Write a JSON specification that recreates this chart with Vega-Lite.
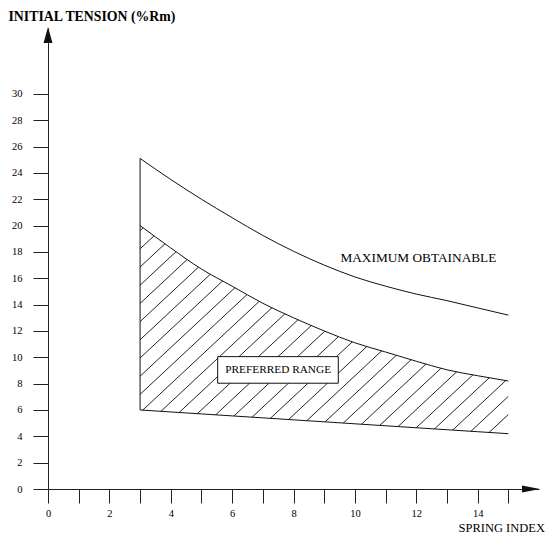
{
  "$schema": "https://vega.github.io/schema/vega-lite/v6.json",
  "autosize": {"type": "none"},
  "padding": {"left": 48, "top": 28, "right": 10, "bottom": 46},
  "width": 491,
  "height": 461,
  "background": "white",
  "config": {
    "view": {"stroke": null},
    "axis": {
      "grid": false,
      "domainColor": "#222", "domainWidth": 1,
      "tickColor": "#222", "tickWidth": 1,
      "labelFont": "Liberation Serif", "labelFontSize": 10.5, "labelColor": "black",
      "labelFlush": false, "labelOverlap": false,
      "titleFont": "Liberation Serif", "titleColor": "black"
    }
  },
  "datasets": {
    "curves": [
      {"spring_index": 3, "maximum": 25.1, "preferred_upper": 20.0, "preferred_lower": 6.0},
      {"spring_index": 4, "maximum": 23.5, "preferred_upper": 18.3, "preferred_lower": 5.85},
      {"spring_index": 5, "maximum": 22.0, "preferred_upper": 16.7, "preferred_lower": 5.7},
      {"spring_index": 6, "maximum": 20.6, "preferred_upper": 15.4, "preferred_lower": 5.55},
      {"spring_index": 7, "maximum": 19.25, "preferred_upper": 14.1, "preferred_lower": 5.4},
      {"spring_index": 8, "maximum": 18.05, "preferred_upper": 13.0, "preferred_lower": 5.25},
      {"spring_index": 9, "maximum": 17.0, "preferred_upper": 12.0, "preferred_lower": 5.1},
      {"spring_index": 10, "maximum": 16.1, "preferred_upper": 11.1, "preferred_lower": 4.95},
      {"spring_index": 11, "maximum": 15.4, "preferred_upper": 10.4, "preferred_lower": 4.8},
      {"spring_index": 12, "maximum": 14.8, "preferred_upper": 9.7, "preferred_lower": 4.65},
      {"spring_index": 13, "maximum": 14.3, "preferred_upper": 9.05, "preferred_lower": 4.5},
      {"spring_index": 14, "maximum": 13.75, "preferred_upper": 8.6, "preferred_lower": 4.35},
      {"spring_index": 15, "maximum": 13.2, "preferred_upper": 8.2, "preferred_lower": 4.2}
    ],
    "labels": [
      {"label": "MAXIMUM OBTAINABLE", "spring_index": 12.07, "tension": 17.52, "kind": "plain"},
      {"label": "PREFERRED RANGE", "spring_index": 7.5, "tension": 9.04, "kind": "boxed"}
    ],
    "boxes": [
      {"spring_index": 5.53, "spring_index_end": 9.46, "tension": 8.03, "tension_end": 10.05}
    ]
  },
  "layer": [
    {
      "data": {"name": "curves"},
      "mark": {
        "type": "area",
        "interpolate": "monotone",
        "opacity": 1,
        "fill": {
          "gradient": "linear",
          "x1": 0, "y1": 0, "x2": 1.1748, "y2": 0.7113,
          "stops": [
            {"offset": 0, "color": "white"},
            {"offset": 0.0074, "color": "white"}, {"offset": 0.0092, "color": "#222"}, {"offset": 0.0110, "color": "white"},
            {"offset": 0.0404, "color": "white"}, {"offset": 0.0422, "color": "#222"}, {"offset": 0.0440, "color": "white"},
            {"offset": 0.0733, "color": "white"}, {"offset": 0.0751, "color": "#222"}, {"offset": 0.0769, "color": "white"},
            {"offset": 0.1063, "color": "white"}, {"offset": 0.1081, "color": "#222"}, {"offset": 0.1099, "color": "white"},
            {"offset": 0.1393, "color": "white"}, {"offset": 0.1411, "color": "#222"}, {"offset": 0.1429, "color": "white"},
            {"offset": 0.1723, "color": "white"}, {"offset": 0.1741, "color": "#222"}, {"offset": 0.1759, "color": "white"},
            {"offset": 0.2052, "color": "white"}, {"offset": 0.2070, "color": "#222"}, {"offset": 0.2088, "color": "white"},
            {"offset": 0.2382, "color": "white"}, {"offset": 0.2400, "color": "#222"}, {"offset": 0.2418, "color": "white"},
            {"offset": 0.2712, "color": "white"}, {"offset": 0.2730, "color": "#222"}, {"offset": 0.2748, "color": "white"},
            {"offset": 0.3041, "color": "white"}, {"offset": 0.3059, "color": "#222"}, {"offset": 0.3077, "color": "white"},
            {"offset": 0.3371, "color": "white"}, {"offset": 0.3389, "color": "#222"}, {"offset": 0.3407, "color": "white"},
            {"offset": 0.3701, "color": "white"}, {"offset": 0.3719, "color": "#222"}, {"offset": 0.3737, "color": "white"},
            {"offset": 0.4030, "color": "white"}, {"offset": 0.4048, "color": "#222"}, {"offset": 0.4066, "color": "white"},
            {"offset": 0.4360, "color": "white"}, {"offset": 0.4378, "color": "#222"}, {"offset": 0.4396, "color": "white"},
            {"offset": 0.4690, "color": "white"}, {"offset": 0.4708, "color": "#222"}, {"offset": 0.4726, "color": "white"},
            {"offset": 0.5020, "color": "white"}, {"offset": 0.5038, "color": "#222"}, {"offset": 0.5056, "color": "white"},
            {"offset": 0.5349, "color": "white"}, {"offset": 0.5367, "color": "#222"}, {"offset": 0.5385, "color": "white"},
            {"offset": 0.5679, "color": "white"}, {"offset": 0.5697, "color": "#222"}, {"offset": 0.5715, "color": "white"},
            {"offset": 0.6009, "color": "white"}, {"offset": 0.6027, "color": "#222"}, {"offset": 0.6045, "color": "white"},
            {"offset": 0.6338, "color": "white"}, {"offset": 0.6356, "color": "#222"}, {"offset": 0.6374, "color": "white"},
            {"offset": 0.6668, "color": "white"}, {"offset": 0.6686, "color": "#222"}, {"offset": 0.6704, "color": "white"},
            {"offset": 0.6998, "color": "white"}, {"offset": 0.7016, "color": "#222"}, {"offset": 0.7034, "color": "white"},
            {"offset": 0.7327, "color": "white"}, {"offset": 0.7345, "color": "#222"}, {"offset": 0.7363, "color": "white"},
            {"offset": 0.7657, "color": "white"}, {"offset": 0.7675, "color": "#222"}, {"offset": 0.7693, "color": "white"},
            {"offset": 0.7987, "color": "white"}, {"offset": 0.8005, "color": "#222"}, {"offset": 0.8023, "color": "white"},
            {"offset": 0.8317, "color": "white"}, {"offset": 0.8335, "color": "#222"}, {"offset": 0.8353, "color": "white"},
            {"offset": 0.8646, "color": "white"}, {"offset": 0.8664, "color": "#222"}, {"offset": 0.8682, "color": "white"},
            {"offset": 0.8976, "color": "white"}, {"offset": 0.8994, "color": "#222"}, {"offset": 0.9012, "color": "white"},
            {"offset": 0.9306, "color": "white"}, {"offset": 0.9324, "color": "#222"}, {"offset": 0.9342, "color": "white"},
            {"offset": 0.9635, "color": "white"}, {"offset": 0.9653, "color": "#222"}, {"offset": 0.9671, "color": "white"},
            {"offset": 1, "color": "white"}
          ]
        }
      },
      "encoding": {
        "x": {
          "field": "spring_index", "type": "quantitative",
          "scale": {"domain": [0, 16], "nice": false, "zero": false},
          "axis": {"title": "SPRING INDEX", "values": [0, 1, 2, 3, 4, 5, 6, 7, 8, 9, 10, 11, 12, 13, 14, 15], "labelExpr": "datum.value % 2 == 0 ? datum.label : ''", "tickSize": 14, "labelPadding": 5, "titleFontSize": 12.5, "titleFontWeight": "normal", "titleX": 410, "titleY": 38, "titleAlign": "left", "titleBaseline": "middle"}
        },
        "y": {
          "field": "preferred_lower", "type": "quantitative",
          "scale": {"domain": [0, 35], "nice": false, "zero": false},
          "axis": {"title": "INITIAL TENSION (%Rm)", "values": [0, 2, 4, 6, 8, 10, 12, 14, 16, 18, 20, 22, 24, 26, 28, 30], "tickSize": 15, "labelPadding": 11, "titleFontSize": 13.8, "titleFontWeight": "bold", "titleAngle": 0, "titleX": -40, "titleY": -12, "titleAlign": "left", "titleBaseline": "middle"}
        },
        "y2": {"field": "preferred_upper"}
      }
    },
    {
      "data": {"name": "curves"},
      "mark": {"type": "line", "interpolate": "monotone", "color": "#111", "strokeWidth": 1},
      "encoding": {
        "x": {"field": "spring_index", "type": "quantitative", "axis": {"title": "SPRING INDEX", "values": [0, 1, 2, 3, 4, 5, 6, 7, 8, 9, 10, 11, 12, 13, 14, 15], "labelExpr": "datum.value % 2 == 0 ? datum.label : ''", "tickSize": 14, "labelPadding": 5, "titleFontSize": 12.5, "titleFontWeight": "normal", "titleX": 410, "titleY": 38, "titleAlign": "left", "titleBaseline": "middle"}},
        "y": {"field": "maximum", "type": "quantitative", "axis": {"title": "INITIAL TENSION (%Rm)", "values": [0, 2, 4, 6, 8, 10, 12, 14, 16, 18, 20, 22, 24, 26, 28, 30], "tickSize": 15, "labelPadding": 11, "titleFontSize": 13.8, "titleFontWeight": "bold", "titleAngle": 0, "titleX": -40, "titleY": -12, "titleAlign": "left", "titleBaseline": "middle"}}
      }
    },
    {
      "data": {"name": "curves"},
      "mark": {"type": "line", "interpolate": "monotone", "color": "#111", "strokeWidth": 1},
      "encoding": {
        "x": {"field": "spring_index", "type": "quantitative", "axis": {"title": "SPRING INDEX", "values": [0, 1, 2, 3, 4, 5, 6, 7, 8, 9, 10, 11, 12, 13, 14, 15], "labelExpr": "datum.value % 2 == 0 ? datum.label : ''", "tickSize": 14, "labelPadding": 5, "titleFontSize": 12.5, "titleFontWeight": "normal", "titleX": 410, "titleY": 38, "titleAlign": "left", "titleBaseline": "middle"}},
        "y": {"field": "preferred_upper", "type": "quantitative", "axis": {"title": "INITIAL TENSION (%Rm)", "values": [0, 2, 4, 6, 8, 10, 12, 14, 16, 18, 20, 22, 24, 26, 28, 30], "tickSize": 15, "labelPadding": 11, "titleFontSize": 13.8, "titleFontWeight": "bold", "titleAngle": 0, "titleX": -40, "titleY": -12, "titleAlign": "left", "titleBaseline": "middle"}}
      }
    },
    {
      "data": {"name": "curves"},
      "mark": {"type": "line", "color": "#111", "strokeWidth": 1},
      "encoding": {
        "x": {"field": "spring_index", "type": "quantitative", "axis": {"title": "SPRING INDEX", "values": [0, 1, 2, 3, 4, 5, 6, 7, 8, 9, 10, 11, 12, 13, 14, 15], "labelExpr": "datum.value % 2 == 0 ? datum.label : ''", "tickSize": 14, "labelPadding": 5, "titleFontSize": 12.5, "titleFontWeight": "normal", "titleX": 410, "titleY": 38, "titleAlign": "left", "titleBaseline": "middle"}},
        "y": {"field": "preferred_lower", "type": "quantitative", "axis": {"title": "INITIAL TENSION (%Rm)", "values": [0, 2, 4, 6, 8, 10, 12, 14, 16, 18, 20, 22, 24, 26, 28, 30], "tickSize": 15, "labelPadding": 11, "titleFontSize": 13.8, "titleFontWeight": "bold", "titleAngle": 0, "titleX": -40, "titleY": -12, "titleAlign": "left", "titleBaseline": "middle"}}
      }
    },
    {
      "data": {"name": "curves"},
      "transform": [{"filter": "datum.spring_index == 3"}],
      "mark": {"type": "rule", "color": "#111", "strokeWidth": 1},
      "encoding": {
        "x": {"field": "spring_index", "type": "quantitative", "axis": {"title": "SPRING INDEX", "values": [0, 1, 2, 3, 4, 5, 6, 7, 8, 9, 10, 11, 12, 13, 14, 15], "labelExpr": "datum.value % 2 == 0 ? datum.label : ''", "tickSize": 14, "labelPadding": 5, "titleFontSize": 12.5, "titleFontWeight": "normal", "titleX": 410, "titleY": 38, "titleAlign": "left", "titleBaseline": "middle"}},
        "y": {"field": "preferred_lower", "type": "quantitative", "axis": {"title": "INITIAL TENSION (%Rm)", "values": [0, 2, 4, 6, 8, 10, 12, 14, 16, 18, 20, 22, 24, 26, 28, 30], "tickSize": 15, "labelPadding": 11, "titleFontSize": 13.8, "titleFontWeight": "bold", "titleAngle": 0, "titleX": -40, "titleY": -12, "titleAlign": "left", "titleBaseline": "middle"}},
        "y2": {"field": "maximum"}
      }
    },
    {
      "data": {"name": "boxes"},
      "mark": {"type": "rect", "fill": "white", "stroke": "#111", "strokeWidth": 1},
      "encoding": {
        "x": {"field": "spring_index", "type": "quantitative", "axis": {"title": "SPRING INDEX", "values": [0, 1, 2, 3, 4, 5, 6, 7, 8, 9, 10, 11, 12, 13, 14, 15], "labelExpr": "datum.value % 2 == 0 ? datum.label : ''", "tickSize": 14, "labelPadding": 5, "titleFontSize": 12.5, "titleFontWeight": "normal", "titleX": 410, "titleY": 38, "titleAlign": "left", "titleBaseline": "middle"}},
        "x2": {"field": "spring_index_end"},
        "y": {"field": "tension", "type": "quantitative", "axis": {"title": "INITIAL TENSION (%Rm)", "values": [0, 2, 4, 6, 8, 10, 12, 14, 16, 18, 20, 22, 24, 26, 28, 30], "tickSize": 15, "labelPadding": 11, "titleFontSize": 13.8, "titleFontWeight": "bold", "titleAngle": 0, "titleX": -40, "titleY": -12, "titleAlign": "left", "titleBaseline": "middle"}},
        "y2": {"field": "tension_end"}
      }
    },
    {
      "data": {"name": "labels"},
      "mark": {"type": "text", "font": "Liberation Serif", "color": "black", "align": "center", "baseline": "middle"},
      "encoding": {
        "x": {"field": "spring_index", "type": "quantitative", "axis": {"title": "SPRING INDEX", "values": [0, 1, 2, 3, 4, 5, 6, 7, 8, 9, 10, 11, 12, 13, 14, 15], "labelExpr": "datum.value % 2 == 0 ? datum.label : ''", "tickSize": 14, "labelPadding": 5, "titleFontSize": 12.5, "titleFontWeight": "normal", "titleX": 410, "titleY": 38, "titleAlign": "left", "titleBaseline": "middle"}},
        "y": {"field": "tension", "type": "quantitative", "axis": {"title": "INITIAL TENSION (%Rm)", "values": [0, 2, 4, 6, 8, 10, 12, 14, 16, 18, 20, 22, 24, 26, 28, 30], "tickSize": 15, "labelPadding": 11, "titleFontSize": 13.8, "titleFontWeight": "bold", "titleAngle": 0, "titleX": -40, "titleY": -12, "titleAlign": "left", "titleBaseline": "middle"}},
        "text": {"field": "label"},
        "size": {"condition": {"test": "datum.kind == 'boxed'", "value": 11.3}, "value": 13.3}
      }
    },
    {
      "data": {"values": [{}]},
      "mark": {"type": "point", "shape": "M -1 -0.4 L 1 0 L -1 0.4 Z", "filled": true, "color": "#111", "opacity": 1, "size": 324, "clip": false},
      "encoding": {
        "x": {"datum": 15.74, "type": "quantitative", "axis": {"title": "SPRING INDEX", "values": [0, 1, 2, 3, 4, 5, 6, 7, 8, 9, 10, 11, 12, 13, 14, 15], "labelExpr": "datum.value % 2 == 0 ? datum.label : ''", "tickSize": 14, "labelPadding": 5, "titleFontSize": 12.5, "titleFontWeight": "normal", "titleX": 410, "titleY": 38, "titleAlign": "left", "titleBaseline": "middle"}},
        "y": {"datum": 0, "type": "quantitative", "axis": {"title": "INITIAL TENSION (%Rm)", "values": [0, 2, 4, 6, 8, 10, 12, 14, 16, 18, 20, 22, 24, 26, 28, 30], "tickSize": 15, "labelPadding": 11, "titleFontSize": 13.8, "titleFontWeight": "bold", "titleAngle": 0, "titleX": -40, "titleY": -12, "titleAlign": "left", "titleBaseline": "middle"}}
      }
    },
    {
      "data": {"values": [{}]},
      "mark": {"type": "point", "shape": "M -0.56 1 L 0 -1 L 0.56 1 Z", "filled": true, "color": "#111", "opacity": 1, "size": 256, "clip": false},
      "encoding": {
        "x": {"datum": 0, "type": "quantitative", "axis": {"title": "SPRING INDEX", "values": [0, 1, 2, 3, 4, 5, 6, 7, 8, 9, 10, 11, 12, 13, 14, 15], "labelExpr": "datum.value % 2 == 0 ? datum.label : ''", "tickSize": 14, "labelPadding": 5, "titleFontSize": 12.5, "titleFontWeight": "normal", "titleX": 410, "titleY": 38, "titleAlign": "left", "titleBaseline": "middle"}},
        "y": {"datum": 34.47, "type": "quantitative", "axis": {"title": "INITIAL TENSION (%Rm)", "values": [0, 2, 4, 6, 8, 10, 12, 14, 16, 18, 20, 22, 24, 26, 28, 30], "tickSize": 15, "labelPadding": 11, "titleFontSize": 13.8, "titleFontWeight": "bold", "titleAngle": 0, "titleX": -40, "titleY": -12, "titleAlign": "left", "titleBaseline": "middle"}}
      }
    }
  ]
}
